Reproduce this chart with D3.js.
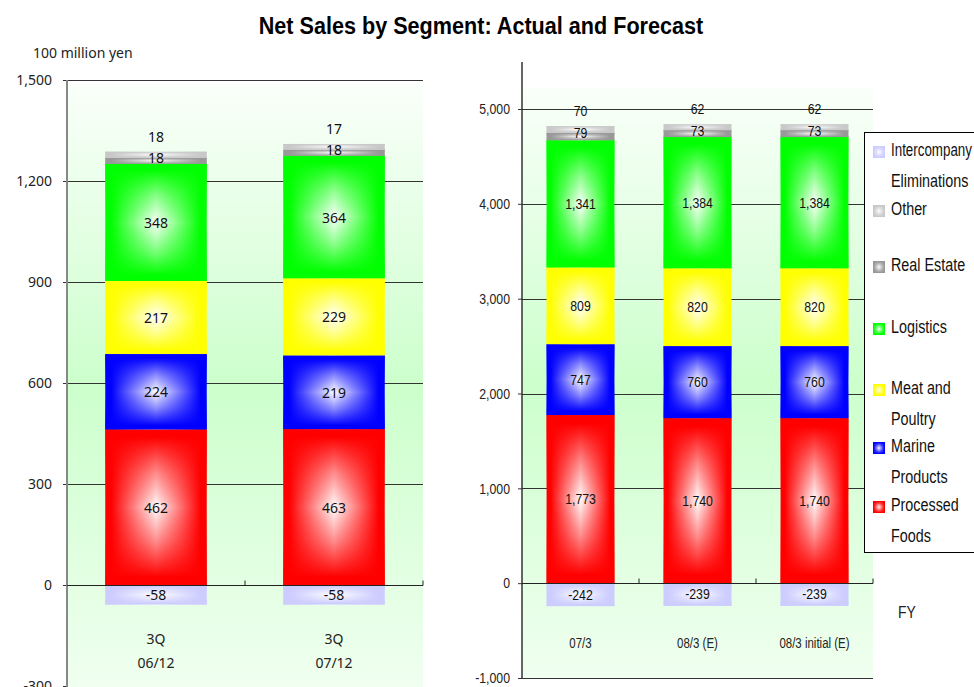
<!DOCTYPE html>
<html>
<head>
<meta charset="utf-8">
<script src="https://cdn.jsdelivr.net/npm/d3@7"></script>
<style>
  body { margin: 0; background: #fff; }
  svg { display: block; }
</style>
</head>
<body>
<svg id="chart" width="974" height="687"></svg>
<script>
// ---- Segments (stack order from the baseline upward) ----
const segmentKeys   = ["processed", "marine", "meat", "logistics", "realEstate", "other", "elim"];
const segmentColors = ["#ff0000", "#0000ff", "#ffff00", "#00ff00", "#989898", "#c8c8c8", "#ccccff"];

// ---- Quarterly results (3Q cumulative), 100 million yen ----
const quarterPeriods    = ["3Q", "3Q"];
const quarterDates      = ["06/12", "07/12"];
const quarterProcessed  = [462, 463];
const quarterMarine     = [224, 219];
const quarterMeat       = [217, 229];
const quarterLogistics  = [348, 364];
const quarterRealEstate = [18, 18];
const quarterOther      = [18, 17];
const quarterElim       = [-58, -58];
const quarterTicks      = [-300, 0, 300, 600, 900, 1200, 1500];

// ---- Fiscal years: actual, forecast, initial forecast ----
const yearLabels     = ["07/3", "08/3 (E)", "08/3 initial (E)"];
const yearProcessed  = [1773, 1740, 1740];
const yearMarine     = [747, 760, 760];
const yearMeat       = [809, 820, 820];
const yearLogistics  = [1341, 1384, 1384];
const yearRealEstate = [79, 73, 73];
const yearOther      = [70, 62, 62];
const yearElim       = [-242, -239, -239];
const yearTicks      = [-1000, 0, 1000, 2000, 3000, 4000, 5000];

// ---- Legend, top to bottom (lines of each entry) ----
const legendKeys  = ["elim", "other", "realEstate", "logistics", "meat", "marine", "processed"];
const legendLines = [["Intercompany", "Eliminations"], ["Other"], ["Real Estate"], ["Logistics"],
                     ["Meat and", "Poultry"], ["Marine", "Products"], ["Processed", "Foods"]];

const quarterRows = quarterDates.map((d, i) => ({
  name: d, period: quarterPeriods[i],
  processed: quarterProcessed[i], marine: quarterMarine[i], meat: quarterMeat[i],
  logistics: quarterLogistics[i], realEstate: quarterRealEstate[i], other: quarterOther[i],
  elim: quarterElim[i]
}));
const yearRows = yearLabels.map((d, i) => ({
  name: d,
  processed: yearProcessed[i], marine: yearMarine[i], meat: yearMeat[i],
  logistics: yearLogistics[i], realEstate: yearRealEstate[i], other: yearOther[i],
  elim: yearElim[i]
}));

const svg = d3.select("#chart");
const defs = svg.append("defs");
const fmt = d3.formatLocale({ decimal: ".", thousands: ",", grouping: [3], currency: ["", ""], minus: "-" }).format(",");
const colorOf = k => segmentColors[segmentKeys.indexOf(k)];

// Narrow face: Arial-metric sans squeezed horizontally
const narrowFont = "'Liberation Sans', Arial, sans-serif";
const narrowScale = 0.82;
const leftFont = "'Noto Sans', 'Open Sans', sans-serif";

// Box-shaped shading: horizontal colour→white→colour base with a vertical colour overlay
segmentKeys.forEach(k => {
  const c = colorOf(k);
  const mid = d3.interpolateRgb(c, "#ffffff")(0.5);
  const h = defs.append("linearGradient").attr("id", "h-" + k)
    .attr("x1", 0).attr("x2", 1).attr("y1", 0).attr("y2", 0);
  [[0, c], [0.06, c], [0.28, mid], [0.5, "#ffffff"], [0.72, mid], [0.94, c], [1, c]].forEach(([o, col]) =>
    h.append("stop").attr("offset", o).attr("stop-color", col));
  const v = defs.append("linearGradient").attr("id", "v-" + k)
    .attr("x1", 0).attr("x2", 0).attr("y1", 0).attr("y2", 1);
  [[0, 1], [0.05, 1], [0.28, 0.45], [0.5, 0], [0.72, 0.45], [0.95, 1], [1, 1]].forEach(([o, op]) =>
    v.append("stop").attr("offset", o).attr("stop-color", c).attr("stop-opacity", op));
});

const bg = defs.append("linearGradient").attr("id", "plot-bg")
  .attr("x1", 0).attr("x2", 0).attr("y1", 0).attr("y2", 1);
[[0, "#fafffa"], [0.5, "#ccffcc"], [1, "#f0fff0"]].forEach(([o, col]) =>
  bg.append("stop").attr("offset", o).attr("stop-color", col));

// Title
svg.append("text")
  .attr("transform", "translate(481,34) scale(0.9,1)")
  .attr("text-anchor", "middle")
  .style("font-family", narrowFont)
  .style("font-weight", "bold")
  .style("font-size", "24px")
  .attr("fill", "#000")
  .text("Net Sales by Segment: Actual and Forecast");

function drawPanel(cfg) {
  const g = svg.append("g");
  const sx = cfg.sx;
  const x = d3.scaleBand().domain(cfg.rows.map(r => r.name)).range([cfg.x0, cfg.x1]).padding(0);
  const y = d3.scaleLinear().domain(cfg.domain).range([cfg.yBottom, cfg.yTop]);
  const barW = x.bandwidth() * cfg.barFrac;
  const barX = d => x(d) + (x.bandwidth() - barW) / 2;

  // plot background
  g.append("rect")
    .attr("x", cfg.x0).attr("y", cfg.bgTop)
    .attr("width", cfg.x1 - cfg.x0).attr("height", cfg.bgBottom - cfg.bgTop)
    .attr("fill", "url(#plot-bg)");

  // gridlines
  g.append("g").selectAll("line").data(cfg.gridTicks).join("line")
    .attr("x1", cfg.x0).attr("x2", cfg.x1)
    .attr("y1", d => Math.round(y(d)) + 0.5).attr("y2", d => Math.round(y(d)) + 0.5)
    .attr("stroke", "#333").attr("stroke-width", 1);

  // y axis
  const ax = g.append("g")
    .attr("transform", `translate(${cfg.x0},0)`)
    .call(d3.axisLeft(y).tickValues(cfg.ticks).tickFormat(fmt).tickSize(4).tickPadding(cfg.tickPad));
  ax.select(".domain").remove();
  ax.selectAll(".tick line").attr("stroke", "#333");
  ax.selectAll(".tick text")
    .attr("transform", `scale(${sx},1)`)
    .attr("x", -(4 + cfg.tickPad) / sx)
    .style("font-family", cfg.font).style("font-size", cfg.tickSize + "px").attr("fill", "#222");

  // stacked bars
  const series = d3.stack().keys(segmentKeys).offset(d3.stackOffsetDiverging)(cfg.rows);
  const cells = series.flatMap(s => s.map(d => ({ key: s.key, d })));
  const bars = g.append("g");
  ["h-", "v-"].forEach(prefix => {
    bars.append("g").selectAll("rect").data(cells).join("rect")
      .attr("x", e => barX(e.d.data.name))
      .attr("y", e => y(Math.max(e.d[0], e.d[1])))
      .attr("width", barW)
      .attr("height", e => Math.abs(y(e.d[0]) - y(e.d[1])))
      .attr("fill", e => `url(#${prefix}${e.key})`);
  });

  // segment value labels (above all bar pieces)
  const labelY = e => {
    const top = y(Math.max(e.d[0], e.d[1]));
    const mid = (y(e.d[0]) + y(e.d[1])) / 2;
    if (e.key === "other") return top - 15;
    if (e.key === "realEstate") return mid - 3;
    return mid;
  };
  g.append("g").selectAll("text").data(cells).join("text")
    .attr("transform", e => `translate(${barX(e.d.data.name) + barW / 2},${labelY(e)}) scale(${sx},1)`)
    .attr("text-anchor", "middle")
    .attr("dominant-baseline", "central")
    .style("font-family", cfg.font).style("font-size", cfg.labelSize + "px")
    .attr("fill", "#111")
    .text(e => fmt(e.d.data[e.key]));

  // y axis line
  g.append("line")
    .attr("x1", cfg.x0).attr("x2", cfg.x0)
    .attr("y1", cfg.axisTop).attr("y2", cfg.axisBottom)
    .attr("stroke", cfg.axisColor).attr("stroke-width", cfg.axisWidth);

  // zero line with category separators
  const y0 = Math.round(y(0)) + 0.5;
  g.append("line").attr("x1", cfg.x0).attr("x2", cfg.x1).attr("y1", y0).attr("y2", y0)
    .attr("stroke", "#222").attr("stroke-width", 1.2);
  const seps = cfg.rows.map(r => x(r.name) + x.bandwidth());
  g.append("g").selectAll("line").data(seps).join("line")
    .attr("x1", d => d).attr("x2", d => d)
    .attr("y1", y0 - 5).attr("y2", y0)
    .attr("stroke", "#222");

  // category labels
  cfg.categoryLines.forEach((acc, li) => {
    g.append("g").selectAll("text").data(cfg.rows).join("text")
      .attr("transform", d => `translate(${x(d.name) + x.bandwidth() / 2},${cfg.categoryY[li]}) scale(${sx},1)`)
      .attr("text-anchor", "middle")
      .attr("dominant-baseline", "central")
      .style("font-family", cfg.font).style("font-size", cfg.catSize + "px")
      .attr("fill", "#222")
      .text(acc);
  });
}

drawPanel({
  rows: quarterRows, x0: 67, x1: 423, yTop: 80, yBottom: 686,
  domain: [-300, 1500], ticks: quarterTicks, gridTicks: [300, 600, 900, 1200, 1500],
  bgTop: 84, bgBottom: 687, axisTop: 80, axisBottom: 687,
  axisColor: "#888", axisWidth: 2, barFrac: 0.57, tickPad: 11, sx: 1,
  font: leftFont, tickSize: 14, labelSize: 14, catSize: 14,
  categoryLines: [d => d.period, d => d.name], categoryY: [638, 662]
});

svg.append("text")
  .attr("x", 33).attr("y", 52)
  .attr("dominant-baseline", "central")
  .style("font-family", leftFont).style("font-size", "14px")
  .attr("fill", "#222")
  .text("100 million yen");

drawPanel({
  rows: yearRows, x0: 522, x1: 873, yTop: 109, yBottom: 678,
  domain: [-1000, 5000], ticks: yearTicks, gridTicks: [-1000, 1000, 2000, 3000, 4000, 5000],
  bgTop: 88, bgBottom: 678, axisTop: 62, axisBottom: 679,
  axisColor: "#333", axisWidth: 1.5, barFrac: 0.58, tickPad: 8, sx: narrowScale,
  font: narrowFont, tickSize: 15, labelSize: 15, catSize: 14,
  categoryLines: [d => d.name], categoryY: [643]
});

svg.append("text")
  .attr("transform", `translate(898,612) scale(${narrowScale},1)`)
  .attr("dominant-baseline", "central")
  .style("font-family", narrowFont).style("font-size", "17px")
  .attr("fill", "#222")
  .text("FY");

// Legend
const legend = svg.append("g");
legend.append("rect")
  .attr("x", 864.5).attr("y", 132.5).attr("width", 120).attr("height", 420)
  .attr("fill", "#fff").attr("stroke", "#000").attr("stroke-width", 1);
const legendY = [152, 211, 267, 329, 390, 448, 507];
legendKeys.forEach((k, i) => {
  const cy = legendY[i];
  ["h-", "v-"].forEach(prefix => legend.append("rect")
    .attr("x", 873).attr("y", cy - 6).attr("width", 12).attr("height", 12)
    .attr("fill", `url(#${prefix}${k})`));
  legendLines[i].forEach((line, li) => {
    const t = legend.append("text")
      .attr("transform", `translate(891,${cy - 2 + li * 31}) scale(${narrowScale},1)`)
      .attr("dominant-baseline", "central")
      .style("font-family", narrowFont).style("font-size", "17.5px")
      .attr("fill", "#111")
      .text(line);
    // keep the longest entry inside the page
    const w = t.node().getComputedTextLength() * narrowScale;
    if (891 + w > 972) {
      const s = narrowScale * (972 - 891) / w;
      t.attr("transform", `translate(891,${cy - 2 + li * 31}) scale(${s},1)`);
    }
  });
});
</script>
</body>
</html>
